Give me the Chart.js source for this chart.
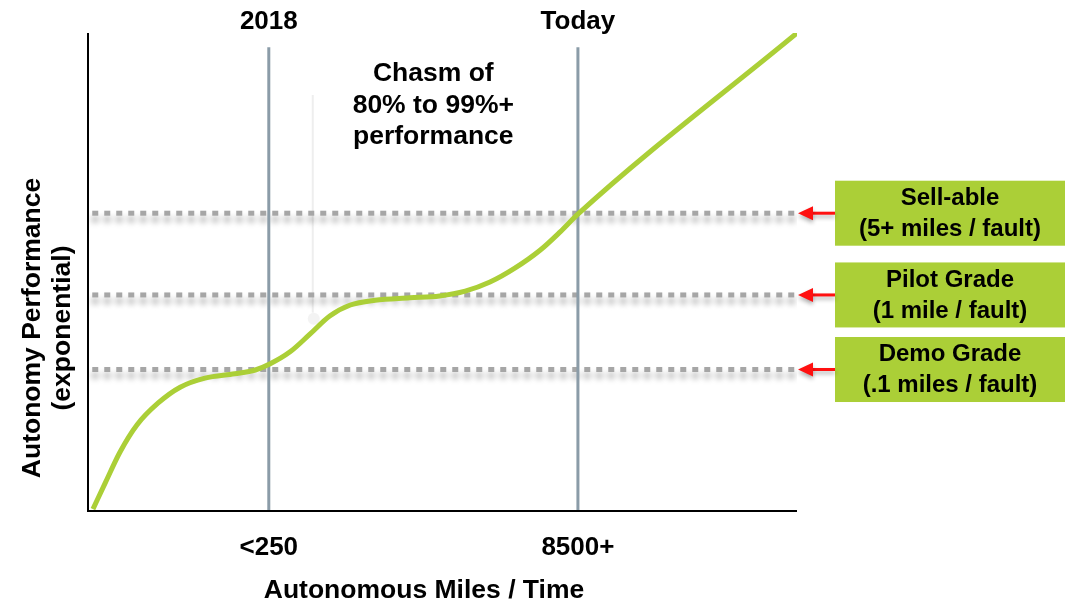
<!DOCTYPE html>
<html>
<head>
<meta charset="utf-8">
<script src="https://cdn.jsdelivr.net/npm/chart.js@4.4.1/dist/chart.umd.min.js"></script>
<style>
  html, body { margin: 0; padding: 0; background: #ffffff; }
  #wrap { width: 1076px; height: 604px; position: relative; }
</style>
</head>
<body>
<div id="wrap"><canvas id="c" width="1076" height="604"></canvas></div>
<script>
// Autonomy performance curve (x: autonomous miles / time, y: performance, both 0-100)
const curveX = [0.7, 2.5, 4.5, 6.9, 9.9, 13.0, 16.5, 20.7, 23.6, 25.7, 28.5, 31.3, 34.1, 37.0, 40.5, 45.4, 49.6, 53.2, 56.7, 60.2, 63.8, 66.6, 69.1, 100];
const curveY = [0.4, 6.1, 12.3, 18.0, 22.6, 25.9, 27.8, 28.7, 29.5, 30.8, 33.3, 37.0, 40.8, 43.1, 44.1, 44.6, 45.0, 46.0, 47.9, 50.8, 54.6, 58.4, 62.1, 100];

// Milestones on the time axis
const milestoneX = [25.5, 69.1];
const milestoneTop = ['2018', 'Today'];
const milestoneBottom = ['<250', '8500+'];

// Performance grades (horizontal reference levels)
const levelY = [62.3, 45.2, 29.6];
const levelTitle = ['Sell-able', 'Pilot Grade', 'Demo Grade'];
const levelSub = ['(5+ miles / fault)', '(1 mile / fault)', '(.1 miles / fault)'];

const chasmText = ['Chasm of', '80% to 99%+', 'performance'];
const chasmX = 48.7;

const GREEN = '#abcf37';
const FONT = '"Liberation Sans", Arial, sans-serif';

const datasets = [];
// dotted grade levels
levelY.forEach((y, i) => {
  datasets.push({
    label: 'level' + i,
    data: [{ x: 0.6, y: y }, { x: 99.7, y: y }],
    borderColor: '#a6a6a6',
    borderWidth: 5,
    borderDash: [6, 6],
    borderCapStyle: 'butt',
    pointRadius: 0,
    fill: false,
    order: 3,
    _shadow: true
  });
});
// milestone verticals
milestoneX.forEach((x, i) => {
  datasets.push({
    label: 'milestone' + i,
    data: [{ x: x, y: 0 }, { x: x, y: 97 }],
    borderColor: '#8b9ca8',
    borderWidth: 3,
    pointRadius: 0,
    fill: false,
    order: 2
  });
});
// performance curve
datasets.push({
  label: 'curve',
  data: curveX.map((x, i) => ({ x: x, y: curveY[i] })),
  borderColor: GREEN,
  borderWidth: 5,
  borderCapStyle: 'butt',
  borderJoinStyle: 'round',
  pointRadius: 0,
  cubicInterpolationMode: 'monotone',
  fill: false,
  order: 1
});

const decor = {
  id: 'decor',
  beforeDatasetDraw(chart, args) {
    const ds = chart.data.datasets[args.index];
    if (ds._shadow) {
      const ctx = chart.ctx;
      ctx.save();
      ctx.shadowColor = 'rgba(0,0,0,0.4)';
      ctx.shadowBlur = 6;
      ctx.shadowOffsetY = 6;
    }
  },
  afterDatasetDraw(chart, args) {
    const ds = chart.data.datasets[args.index];
    if (ds._shadow) chart.ctx.restore();
  },
  beforeDatasetsDraw(chart) {
    const ctx = chart.ctx;
    const xs = chart.scales.x, ys = chart.scales.y;
    // faint pointer inside the chasm
    ctx.save();
    const px = xs.getPixelForValue(31.7);
    ctx.strokeStyle = 'rgba(236,236,236,0.9)';
    ctx.lineWidth = 2;
    ctx.beginPath();
    ctx.moveTo(px, 95);
    ctx.lineTo(px, ys.getPixelForValue(41.5));
    ctx.stroke();
    ctx.fillStyle = 'rgba(242,242,242,0.9)';
    ctx.beginPath();
    ctx.arc(px + 1, ys.getPixelForValue(40.2), 6, 0, Math.PI * 2);
    ctx.fill();
    ctx.restore();
  },
  afterDraw(chart) {
    const ctx = chart.ctx;
    const a = chart.chartArea;
    const xs = chart.scales.x, ys = chart.scales.y;
    ctx.save();
    // axes
    ctx.strokeStyle = '#000';
    ctx.lineWidth = 2;
    ctx.beginPath();
    ctx.moveTo(a.left, a.top);
    ctx.lineTo(a.left, a.bottom);
    ctx.lineTo(a.right, a.bottom);
    ctx.stroke();

    ctx.fillStyle = '#000';
    ctx.textAlign = 'center';
    ctx.textBaseline = 'middle';
    ctx.font = 'bold 26px ' + FONT;
    milestoneX.forEach((x, i) => {
      const px = xs.getPixelForValue(x);
      ctx.fillText(milestoneTop[i], px, 22);
      ctx.fillText(milestoneBottom[i], px, 548);
    });
    ctx.font = 'bold 26.5px ' + FONT;
    ctx.fillText('Autonomous Miles / Time', 424, 591);

    // chasm note
    ctx.font = 'bold 26.5px ' + FONT;
    chasmText.forEach((t, i) => ctx.fillText(t, xs.getPixelForValue(chasmX), 74 + i * 31.5));

    // y title
    ctx.save();
    ctx.translate(33, 328);
    ctx.rotate(-Math.PI / 2);
    ctx.font = 'bold 26.5px ' + FONT;
    ctx.fillText('Autonomy Performance', 0, 0);
    ctx.fillText('(exponential)', 0, 30);
    ctx.restore();

    // grade boxes with arrows
    levelY.forEach((y, i) => {
      const py = ys.getPixelForValue(y);
      const bx = a.right + 38, bw = 230, bh = 65;
      ctx.fillStyle = GREEN;
      ctx.fillRect(bx, py - bh / 2, bw, bh);
      ctx.fillStyle = '#000';
      ctx.font = 'bold 24px ' + FONT;
      ctx.fillText(levelTitle[i], bx + bw / 2, py - 15);
      ctx.fillText(levelSub[i], bx + bw / 2, py + 16);

      // red arrow pointing at the level
      ctx.save();
      ctx.shadowColor = 'rgba(0,0,0,0.3)';
      ctx.shadowBlur = 4;
      ctx.shadowOffsetY = 3;
      ctx.strokeStyle = '#ff1010';
      ctx.fillStyle = '#ff1010';
      ctx.lineWidth = 3;
      ctx.beginPath();
      ctx.moveTo(bx, py);
      ctx.lineTo(a.right + 12, py);
      ctx.stroke();
      ctx.beginPath();
      ctx.moveTo(a.right + 1, py);
      ctx.lineTo(a.right + 16, py - 7);
      ctx.lineTo(a.right + 16, py + 7);
      ctx.closePath();
      ctx.fill();
      ctx.restore();
    });
    ctx.restore();
  }
};

new Chart(document.getElementById('c'), {
  type: 'line',
  data: { datasets: datasets },
  options: {
    responsive: false,
    animation: false,
    events: [],
    layout: { padding: { left: 88, right: 279, top: 33, bottom: 93 } },
    plugins: { legend: { display: false }, tooltip: { enabled: false } },
    scales: {
      x: { type: 'linear', min: 0, max: 100, display: false },
      y: { type: 'linear', min: 0, max: 100, display: false }
    }
  },
  plugins: [decor]
});
</script>
</body>
</html>
